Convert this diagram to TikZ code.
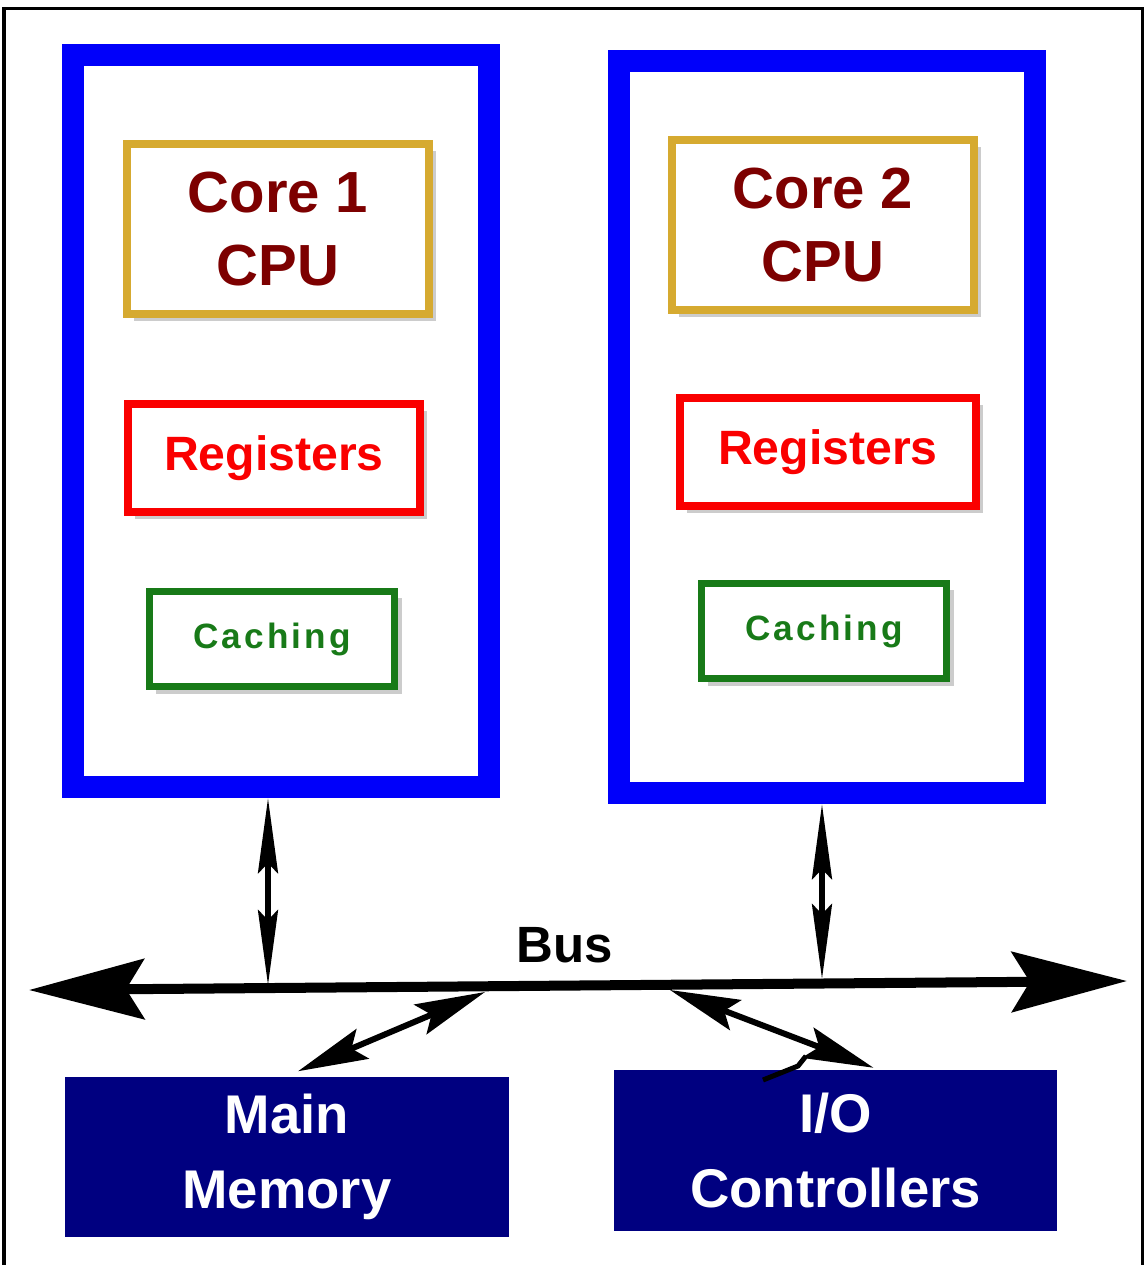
\documentclass[tikz,border=0pt]{standalone}
\usepackage{fontspec}
\setmainfont{Liberation Sans}
\newfontfamily\widefont[LetterSpace=9]{Liberation Sans}
\usetikzlibrary{arrows.meta, shadows}
\definecolor{chipblue}{RGB}{0,0,250}
\definecolor{coregold}{RGB}{214,170,48}
\definecolor{coretext}{RGB}{125,0,0}
\definecolor{regred}{RGB}{250,0,0}
\definecolor{cachegreen}{RGB}{24,122,24}
\definecolor{navy}{RGB}{0,0,128}
\tikzstyle{shadowed}=[drop shadow={opacity=0.4, shadow xshift=0.07cm, shadow yshift=-0.07cm}]
\tikzstyle{chip}=[draw=chipblue, line width=0.22cm, fill=white, minimum width=4.16cm, minimum height=7.32cm, shadowed]
\tikzstyle{corebox}=[draw=coregold, line width=0.08cm, fill=white, minimum width=3.02cm, minimum height=1.70cm, shadowed, text=coretext, font=\fontsize{16.5}{20.5}\selectfont\bfseries, align=center]
\tikzstyle{regbox}=[draw=regred, line width=0.08cm, fill=white, minimum height=1.08cm, shadowed, text=regred, font=\fontsize{13.7}{16}\selectfont\bfseries]
\tikzstyle{cachebox}=[draw=cachegreen, line width=0.07cm, fill=white, minimum width=2.45cm, minimum height=0.95cm, shadowed, text=cachegreen, font=\widefont\fontsize{10}{12}\selectfont\bfseries]
\tikzstyle{unit}=[fill=navy, minimum width=4.43cm, minimum height=1.60cm, text=white, font=\fontsize{15.5}{21.5}\selectfont\bfseries, align=center]
\tikzstyle{busline}=[line width=0.1cm, {Stealth[length=1.15cm, width=0.6cm, inset=0.18cm]}-{Stealth[length=1.15cm, width=0.6cm, inset=0.18cm]}]
\tikzstyle{link}=[line width=0.05cm, {Stealth[length=0.75cm, width=0.2cm, inset=0.1cm]}-{Stealth[length=0.75cm, width=0.2cm, inset=0.1cm]}]
\tikzstyle{slant}=[line width=0.06cm, {Stealth[length=0.7cm, width=0.32cm, inset=0.12cm]}-{Stealth[length=0.7cm, width=0.32cm, inset=0.12cm]}]

\begin{document}
\begin{tikzpicture}[x=0.01cm, y=-0.01cm]
\useasboundingbox (0,0) rectangle (1146,1265);
% Frame
    \draw[line width=0.03cm] (4,1265) -- (4,8) -- (1143,8) -- (1143,1265);
% Chips
    \node[chip] (chipA) at (281,421) {};
    \node[chip] (chipB) at (827,427) {};
% Cores
    \node[corebox] (coreA) at (278,229) {Core 1\\CPU};
    \node[corebox] (coreB) at (823,225) {Core 2\\CPU};
% Registers
    \node[regbox, minimum width=2.92cm] (regA) at (274,458) {Registers};
    \node[regbox, minimum width=2.96cm] (regB) at (828,452) {Registers};
% Caches
    \node[cachebox] (cacheA) at (272,639) {Caching};
    \node[cachebox] (cacheB) at (824,631) {Caching};
% Memory and I/O
    \node[unit, minimum width=4.44cm] (mem) at (287,1157) {Main\\Memory};
    \node[unit] (io) at (835.5,1150.5) {I/O\\Controllers};
% Bus
    \coordinate (busW) at (29,990);
    \coordinate (busE) at (1127,981);
    \coordinate (tapA) at (268,985);
    \coordinate (tapB) at (822,979);
    \coordinate (memTap) at (485,992);
    \coordinate (ioTap) at (670,990);
    \draw[busline] (busW) -- (busE);
    \node[font=\fontsize{14.5}{16}\selectfont\bfseries] (bus) at (565,945) {Bus};
% Links
    \draw[link] (chipA.south -| tapA) -- (tapA);
    \draw[link] (chipB.south -| tapB) -- (tapB);
    \draw[slant] ([xshift=0.11cm, yshift=0.05cm]mem.north) -- (memTap);
    \draw[slant] (ioTap) -- ([xshift=0.38cm, yshift=0.02cm]io.north);
    \draw[line width=0.05cm] (763,1080) -- (798,1066) -- (806,1056);
\end{tikzpicture}
\end{document}
